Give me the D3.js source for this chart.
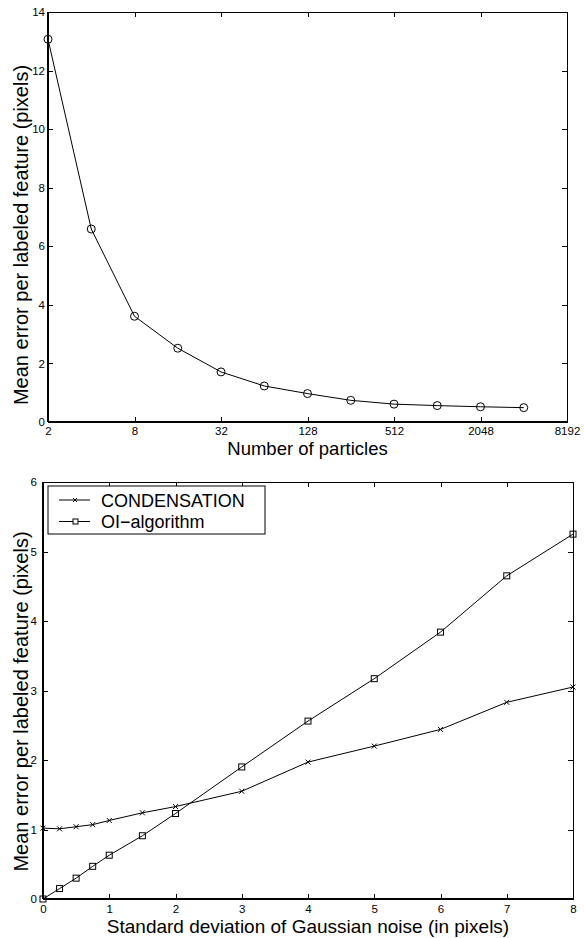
<!DOCTYPE html>
<meta charset="utf-8">
<head>
<script src="https://d3js.org/d3.v7.min.js"></script>
<style>
  body { margin: 0; background: #fff; }
  svg { font-family: "Liberation Sans", Arial, sans-serif; }
  .tick text { font-size: 11.5px; fill: #000; }
  .axis path, .axis line { stroke: #000; shape-rendering: crispEdges; }
</style>
</head>
<body>
<div id="chart"></div>
<script>
// top panel: error vs number of particles
var particles = [2, 4, 8, 16, 32, 64, 128, 256, 512, 1024, 2048, 4096];
var particleError = [13.07, 6.59, 3.61, 2.52, 1.71, 1.23, 0.97, 0.74, 0.61, 0.56, 0.52, 0.49];
var particleTicks = [2, 8, 32, 128, 512, 2048, 8192];
var errorTicksTop = [0, 2, 4, 6, 8, 10, 12, 14];

// bottom panel: error vs noise
var noise = [0, 0.25, 0.5, 0.75, 1, 1.5, 2, 3, 4, 5, 6, 7, 8];
var condensation = [1.02, 1.01, 1.04, 1.07, 1.13, 1.24, 1.33, 1.55, 1.97, 2.20, 2.44, 2.83, 3.05];
var oiAlgorithm = [0, 0.15, 0.30, 0.47, 0.63, 0.91, 1.23, 1.90, 2.56, 3.17, 3.84, 4.65, 5.25];
var noiseTicks = [0, 1, 2, 3, 4, 5, 6, 7, 8];
var errorTicksBottom = [0, 1, 2, 3, 4, 5, 6];
var seriesNames = ["CONDENSATION", "OI\u2212algorithm"];

var svg = d3.select("#chart").append("svg")
    .attr("width", 584)
    .attr("height", 938);

var yLabel = "Mean error per labeled feature (pixels)";

// ---------- top plot ----------
var m1 = {left: 48, top: 12}, w1 = 519, h1 = 410;
var g1 = svg.append("g").attr("transform", "translate(" + m1.left + "," + m1.top + ")");

var x1 = d3.scaleLog().base(2).domain([2, 8192]).range([0, w1]);
var y1 = d3.scaleLinear().domain([0, 14]).range([h1, 0]);

g1.append("g").attr("class", "axis")
    .attr("transform", "translate(0," + h1 + ")")
    .call(d3.axisBottom(x1).tickValues(particleTicks).tickFormat(d3.format("d")).tickSize(-5).tickPadding(5).tickSizeOuter(0));
g1.append("g").attr("class", "axis")
    .call(d3.axisTop(x1).tickValues(particleTicks).tickFormat("").tickSize(-5).tickSizeOuter(0));
g1.append("g").attr("class", "axis")
    .call(d3.axisLeft(y1).tickValues(errorTicksTop).tickFormat(d3.format("d")).tickSize(-5).tickPadding(3).tickSizeOuter(0));
g1.append("g").attr("class", "axis")
    .attr("transform", "translate(" + w1 + ",0)")
    .call(d3.axisRight(y1).tickValues(errorTicksTop).tickFormat("").tickSize(-5).tickSizeOuter(0));
g1.append("line").attr("x1", 0).attr("x2", 0).attr("y1", 0).attr("y2", h1).attr("stroke", "#000").attr("stroke-width", 2);
g1.append("line").attr("x1", 0).attr("x2", w1).attr("y1", h1).attr("y2", h1).attr("stroke", "#000").attr("stroke-width", 2);

var topPts = particles.map(function(d, i) { return {x: d, y: particleError[i]}; });
g1.append("path")
    .datum(topPts)
    .attr("fill", "none")
    .attr("stroke", "#000")
    .attr("stroke-width", 1)
    .attr("d", d3.line().x(function(d) { return x1(d.x); }).y(function(d) { return y1(d.y); }));
g1.selectAll("circle.pt")
    .data(topPts)
    .enter().append("circle")
    .attr("class", "pt")
    .attr("cx", function(d) { return x1(d.x); })
    .attr("cy", function(d) { return y1(d.y); })
    .attr("r", 4)
    .attr("fill", "none")
    .attr("stroke", "#000")
    .attr("stroke-width", 1);

g1.append("text")
    .attr("x", w1 / 2)
    .attr("y", 443)
    .attr("text-anchor", "middle")
    .style("font-size", "18.5px")
    .text("Number of particles");
g1.append("text")
    .attr("transform", "translate(" + (28 - m1.left) + "," + (h1 / 2 + 18) + ") rotate(-90)")
    .attr("text-anchor", "middle")
    .style("font-size", "20px")
    .text(yLabel);

// ---------- bottom plot ----------
var m2 = {left: 43, top: 482}, w2 = 530, h2 = 417;
var g2 = svg.append("g").attr("transform", "translate(" + m2.left + "," + m2.top + ")");

var x2 = d3.scaleLinear().domain([0, 8]).range([0, w2]);
var y2 = d3.scaleLinear().domain([0, 6]).range([h2, 0]);

g2.append("g").attr("class", "axis")
    .attr("transform", "translate(0," + h2 + ")")
    .call(d3.axisBottom(x2).tickValues(noiseTicks).tickFormat(d3.format("d")).tickSize(-5).tickPadding(6).tickSizeOuter(0));
g2.append("g").attr("class", "axis")
    .call(d3.axisTop(x2).tickValues(noiseTicks).tickFormat("").tickSize(-5).tickSizeOuter(0));
g2.append("g").attr("class", "axis")
    .call(d3.axisLeft(y2).tickValues(errorTicksBottom).tickFormat(d3.format("d")).tickSize(-5).tickPadding(6).tickSizeOuter(0));
g2.append("g").attr("class", "axis")
    .attr("transform", "translate(" + w2 + ",0)")
    .call(d3.axisRight(y2).tickValues(errorTicksBottom).tickFormat("").tickSize(-5).tickSizeOuter(0));
g2.append("line").attr("x1", 0).attr("x2", 0).attr("y1", 0).attr("y2", h2).attr("stroke", "#000").attr("stroke-width", 2);
g2.append("line").attr("x1", 0).attr("x2", w2).attr("y1", h2).attr("y2", h2).attr("stroke", "#000").attr("stroke-width", 2);

var line2 = d3.line().x(function(d) { return x2(d.x); }).y(function(d) { return y2(d.y); });
var condPts = noise.map(function(d, i) { return {x: d, y: condensation[i]}; });
var oiPts = noise.map(function(d, i) { return {x: d, y: oiAlgorithm[i]}; });

function crossPath(cx, cy, s) {
  return "M" + (cx - s) + "," + (cy - s) + "L" + (cx + s) + "," + (cy + s) +
         "M" + (cx - s) + "," + (cy + s) + "L" + (cx + s) + "," + (cy - s);
}

g2.append("path").datum(condPts).attr("fill", "none").attr("stroke", "#000").attr("d", line2);
g2.append("path").datum(oiPts).attr("fill", "none").attr("stroke", "#000").attr("d", line2);

g2.selectAll("path.cross")
    .data(condPts)
    .enter().append("path")
    .attr("class", "cross")
    .attr("d", function(d) { return crossPath(x2(d.x), y2(d.y), 2.5); })
    .attr("stroke", "#000")
    .attr("fill", "none");
g2.selectAll("rect.sq")
    .data(oiPts)
    .enter().append("rect")
    .attr("class", "sq")
    .attr("x", function(d) { return x2(d.x) - 3; })
    .attr("y", function(d) { return y2(d.y) - 3; })
    .attr("width", 6)
    .attr("height", 6)
    .attr("fill", "none")
    .attr("stroke", "#000");

// legend
var legend = g2.append("g").attr("transform", "translate(5,4)");
legend.append("rect")
    .attr("width", 217).attr("height", 48)
    .attr("fill", "#fff").attr("stroke", "#000").attr("stroke-width", 1);
seriesNames.forEach(function(name, i) {
  var ly = 14 + i * 21.5;
  legend.append("line").attr("x1", 11).attr("x2", 42).attr("y1", ly).attr("y2", ly).attr("stroke", "#000");
  if (i === 0) {
    legend.append("path").attr("d", crossPath(27, ly, 2)).attr("stroke", "#000");
  } else {
    legend.append("rect").attr("x", 25).attr("y", ly - 2.5).attr("width", 5).attr("height", 5)
        .attr("fill", "#fff").attr("stroke", "#000");
  }
  legend.append("text")
      .attr("x", 53)
      .attr("y", ly + 6.5)
      .style("font-size", "18px")
      .text(name);
});

g2.append("text")
    .attr("x", w2 / 2)
    .attr("y", 451)
    .attr("text-anchor", "middle")
    .style("font-size", "19px")
    .text("Standard deviation of Gaussian noise (in pixels)");
g2.append("text")
    .attr("transform", "translate(" + (28 - m2.left) + "," + (h2 / 2 + 11) + ") rotate(-90)")
    .attr("text-anchor", "middle")
    .style("font-size", "20px")
    .text(yLabel);
</script>
</body>
